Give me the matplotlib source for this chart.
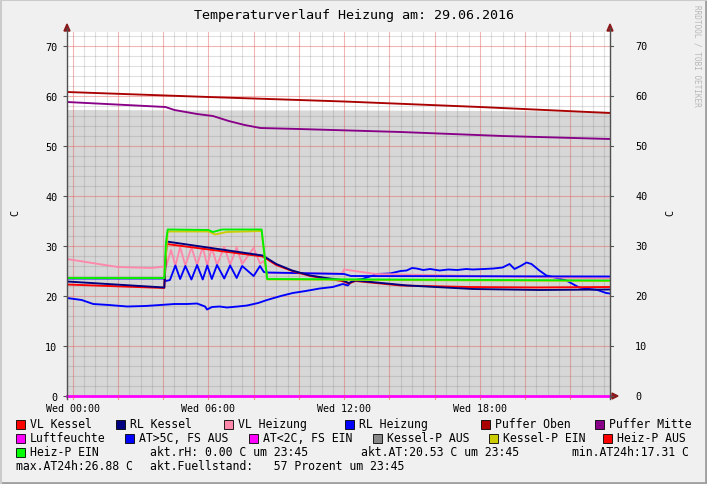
import matplotlib
matplotlib.use("Agg")
import matplotlib.pyplot as plt
from matplotlib.patches import Polygon, Rectangle
from matplotlib.lines import Line2D
import numpy as np

W, H = 707, 485

# ---------------- data (hours since Wed 00:00, degrees C) ----------------
title = "Temperaturverlauf Heizung am: 29.06.2016"
time_ticks = [0, 6, 12, 18]
time_labels = ["Wed 00:00", "Wed 06:00", "Wed 12:00", "Wed 18:00"]
y_ticks = [0, 10, 20, 30, 40, 50, 60, 70]

fuell_t = [-0.25, 6, 12, 18, 23.75]
fuell_v = [57.3, 57.2, 57.2, 57.1, 57.0]

oben_t = [-0.25, 6, 12, 18, 23.75]
oben_v = [60.8, 59.8, 58.9, 57.8, 56.6]

mitte_t = [-0.25, 4.1, 4.5, 5.5, 6.2, 6.9, 7.6, 8.3, 10, 14.5, 19, 23.75]
mitte_v = [58.8, 57.8, 57.2, 56.4, 56.0, 55.0, 54.2, 53.6, 53.4, 52.8, 52.0, 51.4]

vlk_t = [-0.25, 4.05, 4.15, 8.4, 9.0, 9.7, 10.5, 11.3, 11.9, 12.2, 12.5, 14.5, 17.5, 20.5, 23.75]
vlk_v = [22.3, 21.6, 30.4, 27.9, 26.2, 25.0, 24.0, 23.4, 23.0, 22.5, 23.0, 22.1, 21.8, 21.7, 21.8]

rlk_t = [-0.25, 4.05, 4.15, 8.4, 9.0, 9.7, 10.5, 11.2, 11.9, 12.2, 12.5, 14.8, 17.7, 20.6, 23.75]
rlk_v = [22.9, 21.7, 30.9, 28.1, 26.4, 25.1, 24.1, 23.6, 23.2, 22.6, 23.1, 22.1, 21.4, 21.2, 21.3]

kpein_t = [-0.25, 4.05, 4.2, 6.0, 6.3, 6.8, 8.35, 8.6, 23.75]
kpein_v = [23.6, 23.6, 32.9, 32.9, 32.3, 32.8, 33.0, 23.3, 23.0]

hpein_t = [-0.25, 4.05, 4.12, 4.2, 6.0, 6.2, 6.6, 8.35, 8.6, 23.75]
hpein_v = [23.6, 23.6, 30.5, 33.3, 33.2, 32.8, 33.3, 33.3, 23.4, 23.1]

rlh_t = [-0.25, 4.05, 4.12, 4.3, 4.54, 4.75, 4.98, 5.25, 5.5, 5.75, 5.95, 6.15,
         6.38, 6.7, 6.96, 7.25, 7.49, 8.0, 8.28, 8.45, 8.6, 12.0, 12.3, 23.75]
rlh_v = [23.5, 23.5, 23.0, 23.2, 26.1, 23.4, 26.0, 23.3, 26.2, 23.3, 26.1, 23.4,
         26.2, 23.5, 26.1, 23.6, 26.0, 24.0, 26.0, 24.8, 24.7, 24.4, 24.0, 23.9]

vlh_t = [-0.25, 1.0, 2.0, 3.5, 4.05, 4.15, 4.35, 4.54, 4.75, 4.98, 5.25, 5.5, 5.75,
         5.95, 6.15, 6.38, 6.7, 6.96, 7.25, 7.49, 8.0, 8.28, 8.45, 8.6, 11.9, 12.0, 13.4, 23.75]
vlh_v = [27.4, 26.5, 25.8, 25.6, 25.9, 26.2, 29.2, 26.0, 29.8, 26.1, 29.7, 26.2, 29.8,
         26.1, 29.7, 26.2, 29.8, 26.3, 29.7, 26.4, 29.6, 26.5, 27.0, 24.6, 24.5, 25.3, 24.4, 23.5]

at_t = [-0.25, 0.4, 0.91, 1.6, 2.41, 3.2, 3.87, 4.5, 5.06, 5.5, 5.85, 5.94, 6.16, 6.5,
        6.82, 7.3, 7.71, 8.2, 8.59, 9.2, 9.73, 10.3, 10.92, 11.5,
        11.94, 12.16, 12.38, 12.8, 13.27, 13.44, 14.02, 14.5, 14.76, 15.0, 15.2, 15.5,
        15.8, 16.22, 16.6, 17.0, 17.4, 17.68, 18.2, 18.6, 19.0, 19.31,
        19.53, 19.8, 20.06, 20.28, 20.63, 20.94, 21.4, 21.82, 22.39, 22.83, 23.2, 23.58, 23.75]
at_v = [19.6, 19.2, 18.4, 18.2, 17.9, 18.0, 18.2, 18.4, 18.4, 18.5, 17.9, 17.3, 17.8, 17.9,
        17.7, 17.9, 18.1, 18.6, 19.2, 20.0, 20.6, 21.0, 21.5, 21.8,
        22.4, 22.1, 23.1, 23.4, 24.1, 24.4, 24.5, 25.0, 25.1, 25.6, 25.5, 25.2,
        25.4, 25.1, 25.3, 25.2, 25.4, 25.3, 25.4, 25.5, 25.7, 26.4,
        25.4, 26.0, 26.7, 26.4, 25.1, 24.1, 23.6, 23.1, 21.7, 21.4, 21.2, 20.6, 20.5]

zero_t = [-0.25, 23.75]
zero_v = [0.0, 0.0]

legend_rows = [
    [("VL Kessel", "#ff0000"), ("RL Kessel", "#000080"), ("VL Heizung", "#ff88aa"),
     ("RL Heizung", "#0000ff"), ("Puffer Oben", "#aa0000"), ("Puffer Mitte", "#880088")],
    [("Luftfeuchte", "#ff00ff"), ("AT>5C, FS AUS", "#0000ff"), ("AT<2C, FS EIN", "#ff00ff"),
     ("Kessel-P AUS", "#888888"), ("Kessel-P EIN", "#cccc00"), ("Heiz-P AUS", "#ff0000")],
]
row1_x = [16, 116, 224, 345, 481, 595]
row2_x = [16, 125, 249, 373, 489, 603]
info_row3 = [("akt.rH: 0.00 C um 23:45", 150), ("akt.AT:20.53 C um 23:45", 361),
             ("min.AT24h:17.31 C", 572)]
info_row4 = [("max.AT24h:26.88 C", 16), ("akt.Fuellstand:   57 Prozent um 23:45", 150)]

# ---------------- figure ----------------
MONO = "DejaVu Sans Mono"
fig = plt.figure(figsize=(W / 100, H / 100), dpi=100, facecolor="#f0f0f0")

def fx(px):
    return px / W

def fy(py):
    return 1 - py / H

L, R, T, B = 67, 610, 32.7, 397
ax = fig.add_axes([fx(L), fy(B), fx(R) - fx(L), fy(T) - fy(B)])
ax.set_facecolor("white")
ax.set_xlim(-0.25, 23.75)
ax.set_ylim(0, (B - T) / 5.0)

ax.fill_between(fuell_t, 0, fuell_v, color="#d7d7d7", lw=0, zorder=1)

for h in np.arange(0, 24, 0.5):
    if h % 2 == 0:
        continue
    ax.axvline(h, color=(0.45, 0.45, 0.45, 0.22), lw=0.8, zorder=2)
for h in range(0, 24, 2):
    ax.axvline(h, color=(0.9, 0.35, 0.35, 0.45), lw=0.8, zorder=2)
for v in range(2, 73, 2):
    if v % 10 == 0:
        continue
    ax.axhline(v, color=(0.45, 0.45, 0.45, 0.22), lw=0.8, zorder=2)
for v in range(10, 80, 10):
    ax.axhline(v, color=(0.9, 0.35, 0.35, 0.45), lw=0.8, zorder=2)

lw = 1.35
ax.plot(oben_t, oben_v, color="#aa0000", lw=lw, zorder=3)
ax.plot(mitte_t, mitte_v, color="#880088", lw=lw, zorder=3)
ax.plot(at_t, at_v, color="#0000ff", lw=lw, zorder=3)
ax.plot(vlh_t, vlh_v, color="#ff88aa", lw=lw, zorder=3)
ax.plot(rlh_t, rlh_v, color="#0000ff", lw=lw, zorder=3)
ax.plot(vlk_t, vlk_v, color="#ff0000", lw=lw, zorder=3)
ax.plot(rlk_t, rlk_v, color="#000080", lw=lw, zorder=3)
ax.plot(kpein_t, kpein_v, color="#cccc00", lw=lw, zorder=3)
ax.plot(hpein_t, hpein_v, color="#00ee00", lw=lw, zorder=3)
ax.plot(zero_t, zero_v, color="#ff00ff", lw=2.0, zorder=4, clip_on=False)

for s in ax.spines.values():
    s.set_visible(False)
ax.set_xticks(time_ticks)
ax.set_xticklabels(time_labels, fontsize=7.2, family=MONO)
ax.tick_params(axis="x", length=0, pad=5)
ax.set_yticks(y_ticks)
ax.set_yticklabels([str(v) for v in y_ticks], fontsize=7.3, family=MONO)
ax.tick_params(axis="y", length=3, width=0.8, color="#555555", pad=4, direction="out")

for v in y_ticks:
    fig.text(fx(635), fy(B - 5 * v), str(v), fontsize=7.3, family=MONO,
             ha="left", va="center")
    fig.add_artist(Line2D([fx(R), fx(R + 3)], [fy(B - 5 * v)] * 2, color="#555555", lw=0.8))

axis_col = "#505050"
fig.add_artist(Line2D([fx(L), fx(L)], [fy(B + 3), fy(29)], color=axis_col, lw=1.0))
fig.add_artist(Line2D([fx(R), fx(R)], [fy(B + 3), fy(29)], color=axis_col, lw=1.0))
fig.add_artist(Line2D([fx(L - 3), fx(613)], [fy(B), fy(B)], color=axis_col, lw=0.6, zorder=0))
arrow_col = "#8b1a1a"
for cx in (L, R):
    fig.add_artist(Polygon([[fx(cx - 3), fy(32)], [fx(cx + 3), fy(32)], [fx(cx), fy(25)]],
                           closed=True, color=arrow_col, transform=fig.transFigure))
fig.add_artist(Polygon([[fx(612), fy(B - 3)], [fx(612), fy(B + 3)], [fx(618), fy(B)]],
                       closed=True, color=arrow_col, transform=fig.transFigure))
for h in range(0, 24, 2):
    xp = L + (h + 0.25) / 24 * (R - L)
    fig.add_artist(Line2D([fx(xp), fx(xp)], [fy(B), fy(B + 3)], color=(0.9, 0.35, 0.35, 0.6), lw=0.8))

fig.text(fx(354), fy(16), title, fontsize=9.6, family=MONO, ha="center", va="center")
fig.text(fx(15), fy(213), "C", fontsize=7.3, family=MONO, rotation=90, ha="center", va="center")
fig.text(fx(670), fy(213), "C", fontsize=7.3, family=MONO, rotation=90, ha="center", va="center")
fig.text(fx(697), fy(5), "RRDTOOL / TOBI OETIKER", fontsize=5.6, family=MONO, rotation=-90,
         ha="center", va="top", color="#b8b8b8")

FS = 8.3
def swatch(xp, yc, col):
    fig.add_artist(Rectangle((fx(xp), fy(yc + 4.5)), 9 / W, 9 / H, facecolor=col,
                             edgecolor="black", lw=0.6, transform=fig.transFigure))

for row, xs, yc in ((legend_rows[0], row1_x, 425), (legend_rows[1], row2_x, 439)):
    for (lab, col), xp in zip(row, xs):
        swatch(xp, yc, col)
        fig.text(fx(xp + 14), fy(yc), lab, fontsize=FS, family=MONO, ha="left", va="center")

swatch(16, 453, "#00ff00")
fig.text(fx(30), fy(453), "Heiz-P EIN", fontsize=FS, family=MONO, ha="left", va="center")
for txt, xp in info_row3:
    fig.text(fx(xp), fy(453), txt, fontsize=FS, family=MONO, ha="left", va="center")
for txt, xp in info_row4:
    fig.text(fx(xp), fy(467), txt, fontsize=FS, family=MONO, ha="left", va="center")

fig.add_artist(Line2D([fx(705.5), fx(705.5)], [0, 1], color="#a0a0a0", lw=2))
fig.add_artist(Line2D([0, 1], [fy(483.5), fy(483.5)], color="#a0a0a0", lw=2))
fig.add_artist(Line2D([fx(0.5), fx(0.5)], [0, 1], color="#cbcbcb", lw=1.5))
fig.add_artist(Line2D([0, 1], [fy(0.5), fy(0.5)], color="#cbcbcb", lw=1.5))

fig.savefig("out.png", dpi=100, facecolor=fig.get_facecolor())
